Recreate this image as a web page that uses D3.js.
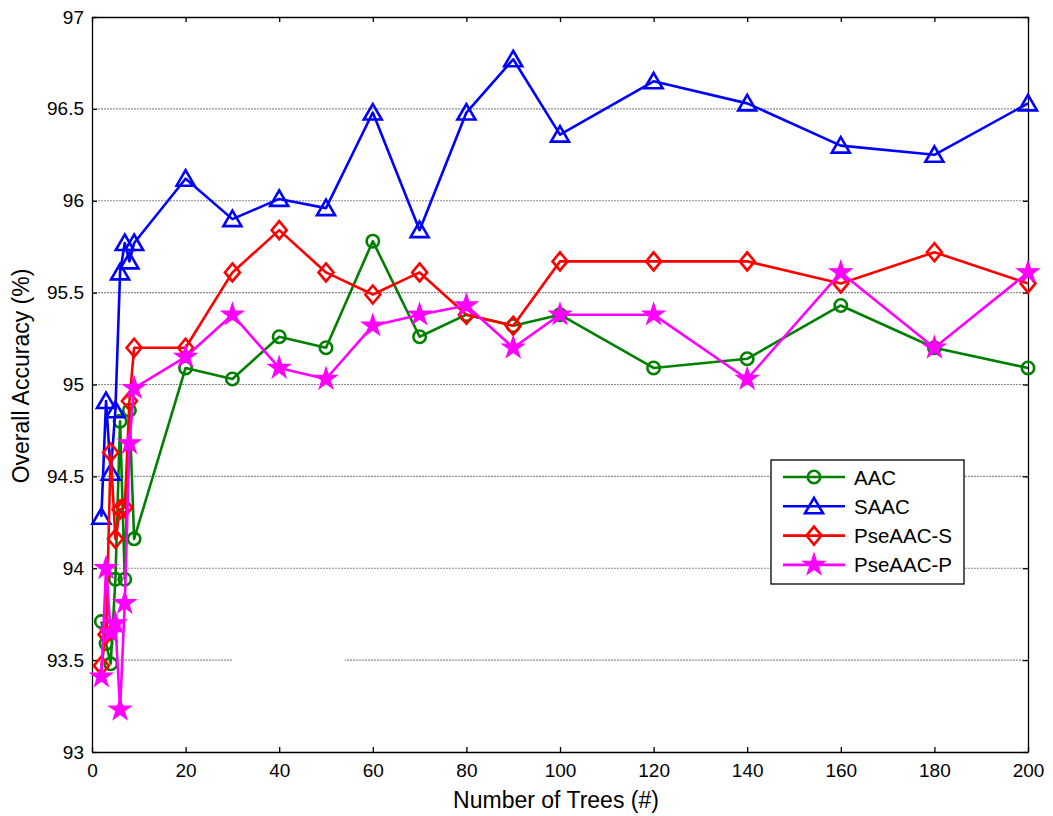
<!DOCTYPE html>
<html>
<head>
<meta charset="utf-8">
<script src="https://cdn.jsdelivr.net/npm/d3@7"></script>
<style>
  html, body { margin: 0; padding: 0; background: #fff; }
  svg { display: block; }
  text { font-family: "Liberation Sans", Arial, sans-serif; fill: #000; }
</style>
</head>
<body>
<svg id="chart" width="1053" height="816"></svg>
<script>
// Number of trees in the forest
const trees = [2, 3, 4, 5, 6, 7, 8, 9, 20, 30, 40, 50, 60, 70, 80, 90, 100, 120, 140, 160, 180, 200];

// Overall accuracy (%) per feature set
const aac      = [93.71, 93.59, 93.48, 93.94, 94.80, 93.94, 94.86, 94.16, 95.09, 95.03, 95.26, 95.20, 95.78, 95.26, 95.38, 95.32, 95.38, 95.09, 95.14, 95.43, 95.20, 95.09];
const saac     = [94.28, 94.91, 94.52, 94.86, 95.61, 95.77, 95.67, 95.77, 96.12, 95.90, 96.01, 95.96, 96.48, 95.84, 96.48, 96.77, 96.36, 96.65, 96.53, 96.30, 96.25, 96.53];
const pseaacS  = [93.47, 93.64, 94.63, 94.16, 94.32, 94.33, 94.91, 95.20, 95.20, 95.61, 95.84, 95.61, 95.49, 95.61, 95.38, 95.32, 95.67, 95.67, 95.67, 95.55, 95.72, 95.55];
const pseaacP  = [93.41, 94.00, 93.65, 93.70, 93.23, 93.81, 94.68, 94.98, 95.15, 95.38, 95.09, 95.03, 95.32, 95.38, 95.43, 95.20, 95.38, 95.38, 95.03, 95.61, 95.20, 95.61];

const seriesNames = ["AAC", "SAAC", "PseAAC-S", "PseAAC-P"];
const xTicks = [0, 20, 40, 60, 80, 100, 120, 140, 160, 180, 200];
const yTicks = [93, 93.5, 94, 94.5, 95, 95.5, 96, 96.5, 97];

const series = [
  { name: seriesNames[0], values: aac,     color: "#008000", marker: "circle" },
  { name: seriesNames[1], values: saac,    color: "#0000ff", marker: "triangle" },
  { name: seriesNames[2], values: pseaacS, color: "#ff0000", marker: "diamond" },
  { name: seriesNames[3], values: pseaacP, color: "#ff00ff", marker: "star" }
];

const svg = d3.select("#chart");
const L = 92, R = 1028, T = 17, B = 752;

const x = d3.scaleLinear().domain([0, 200]).range([L, R]);
const y = d3.scaleLinear().domain([93, 97]).range([B, T]);

// horizontal dotted grid
svg.append("g").selectAll("line")
  .data(yTicks.filter(v => v > 93 && v < 97))
  .join("line")
  .attr("x1", L).attr("x2", R)
  .attr("y1", d => y(d)).attr("y2", d => y(d))
  .attr("stroke", "#8a8a8a").attr("stroke-width", 1.2)
  .attr("stroke-dasharray", "2,1");

// break in the lowest grid line
svg.append("rect")
  .attr("x", x(30)).attr("width", x(54) - x(30))
  .attr("y", y(93.5) - 2).attr("height", 4)
  .attr("fill", "#fff");

// axes with inward ticks
const tickLen = 5;
const axisG = svg.append("g");
axisG.append("g").attr("transform", `translate(0,${B})`)
  .call(d3.axisBottom(x).tickValues(xTicks).tickSizeInner(-tickLen).tickSizeOuter(0).tickPadding(12).tickFormat(d3.format("d")));
axisG.append("g").attr("transform", `translate(0,${T})`)
  .call(d3.axisTop(x).tickValues(xTicks).tickSizeInner(-tickLen).tickSizeOuter(0).tickFormat(""));
axisG.append("g").attr("transform", `translate(${L},0)`)
  .call(d3.axisLeft(y).tickValues(yTicks).tickSizeInner(-tickLen).tickSizeOuter(0).tickPadding(8).tickFormat(d => String(d)));
axisG.append("g").attr("transform", `translate(${R},0)`)
  .call(d3.axisRight(y).tickValues(yTicks).tickSizeInner(-tickLen).tickSizeOuter(0).tickFormat(""));
axisG.selectAll(".domain").attr("stroke", "#000").attr("stroke-width", 1.3);
axisG.selectAll(".tick line").attr("stroke", "#000").attr("stroke-width", 1.3);
axisG.selectAll(".tick text").attr("font-size", 19).attr("font-family", "Liberation Sans, Arial, sans-serif");

// marker shapes
function markerPath(kind) {
  if (kind === "triangle") return "M0,-8.5L9,7L-9,7Z";
  if (kind === "diamond") return "M0,-9L7.5,0L0,9L-7.5,0Z";
  if (kind === "star") return d3.symbol(d3.symbolStar, 150)();
  return null;
}
function drawMarker(sel, s) {
  if (s.marker === "circle") {
    sel.append("circle").attr("r", 6.2)
      .attr("fill", "none").attr("stroke", s.color).attr("stroke-width", 2.6);
  } else if (s.marker === "star") {
    sel.append("path").attr("d", markerPath("star"))
      .attr("fill", s.color).attr("stroke", s.color).attr("stroke-width", 1.2);
  } else {
    sel.append("path").attr("d", markerPath(s.marker))
      .attr("fill", "none").attr("stroke", s.color).attr("stroke-width", 2.6)
      .attr("stroke-linejoin", "miter");
  }
}

const line = d3.line().x((d, i) => x(trees[i])).y(d => y(d));

series.forEach(s => {
  const g = svg.append("g");
  g.append("path").datum(s.values)
    .attr("d", line).attr("fill", "none")
    .attr("stroke", s.color).attr("stroke-width", 2.6).attr("stroke-linejoin", "round");
  g.selectAll("g.pt").data(s.values).join("g")
    .attr("class", "pt")
    .attr("transform", (d, i) => `translate(${x(trees[i])},${y(d)})`)
    .each(function () { drawMarker(d3.select(this), s); });
});

// axis titles
svg.append("text")
  .attr("x", 556).attr("y", 808)
  .attr("text-anchor", "middle").attr("font-size", 23)
  .text("Number of Trees (#)");
svg.append("text")
  .attr("transform", `translate(29,376) rotate(-90)`)
  .attr("text-anchor", "middle").attr("font-size", 23)
  .text("Overall Accuracy (%)");

// legend
const lg = svg.append("g").attr("transform", "translate(771,460)");
lg.append("rect").attr("width", 193).attr("height", 124)
  .attr("fill", "#fff").attr("stroke", "#000").attr("stroke-width", 1.3);
series.forEach((s, i) => {
  const row = lg.append("g").attr("transform", `translate(0,${17 + i * 29.3})`);
  row.append("line").attr("x1", 12).attr("x2", 74)
    .attr("stroke", s.color).attr("stroke-width", 2.6);
  const m = row.append("g").attr("transform", "translate(43,0)");
  drawMarker(m, s);
  row.append("text").attr("x", 83).attr("y", 7.5)
    .attr("font-size", 20.5).text(s.name);
});
</script>
</body>
</html>
